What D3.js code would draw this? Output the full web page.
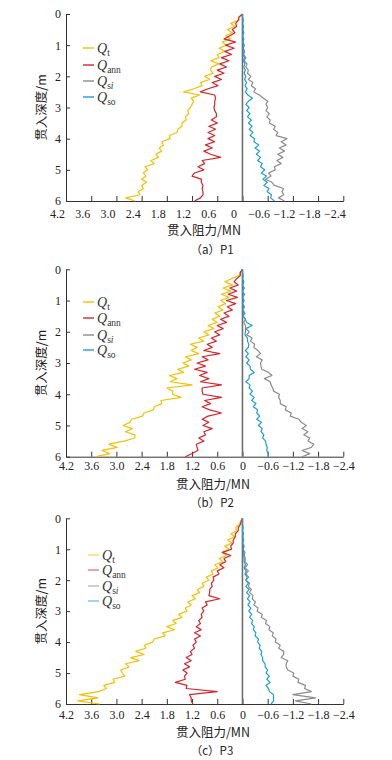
<!DOCTYPE html>
<html>
<head>
<meta charset="utf-8">
<script src="https://cdn.jsdelivr.net/npm/d3@7"></script>
<style>
  body { margin: 0; background: #fff; }
  svg { display: block; }
</style>
</head>
<body>
<svg id="chart" width="392" height="760"></svg>
<script>
// depth (m), shared by all series
var depth = [0,0.1,0.2,0.3,0.4,0.5,0.6,0.7,0.8,0.9,1.0,1.1,1.2,1.3,1.4,1.5,1.6,1.7,1.8,1.9,2.0,
  2.1,2.2,2.3,2.4,2.5,2.6,2.7,2.8,2.9,3.0,3.1,3.2,3.3,3.4,3.5,3.6,3.7,3.8,3.9,4.0,
  4.1,4.2,4.3,4.4,4.5,4.6,4.7,4.8,4.9,5.0,5.1,5.2,5.3,5.4,5.5,5.6,5.7,5.8,5.9,6.0];

var xTicks = [4.2, 3.6, 3.0, 2.4, 1.8, 1.2, 0.6, 0, -0.6, -1.2, -1.8, -2.4];
var yTicks = [0, 1, 2, 3, 4, 5, 6];
var seriesNames = ["t", "ann", "si", "so"];
var seriesColors = ["#f5c000", "#d8232a", "#8c8c8c", "#1c9fd6"];
var captions = ["（a）P1", "（b）P2", "（c）P3"];

// P1
var p1_Qt = [0,0.1,0.08,0.28,0.18,0.36,0.24,0.4,0.28,0.48,0.38,0.56,0.42,0.6,0.56,0.76,0.56,0.74,0.76,0.7,0.9,
  0.78,1.0,0.96,1.16,1.4,1.02,1.22,1.16,1.2,1.24,1.3,1.28,1.36,1.34,1.44,1.44,1.54,1.56,1.74,1.72,
  1.92,1.88,1.98,1.92,2.06,2.0,2.18,2.1,2.32,2.26,2.36,2.3,2.4,2.28,2.4,2.36,2.48,2.44,2.78,2.56];
var p1_Qann = [0,0.08,0.1,0.16,0.14,0.24,0.18,0.3,0.44,0.16,0.4,0.2,0.42,0.26,0.5,0.32,0.54,0.38,0.6,0.44,0.66,
  0.5,0.72,0.58,0.82,1.0,0.66,0.64,0.66,0.66,0.68,0.66,0.62,0.62,0.74,0.6,0.8,0.64,0.82,0.66,0.82,
  0.66,0.88,0.72,0.92,0.76,0.52,0.96,0.9,1.06,0.92,1.14,1.2,0.98,0.98,0.94,0.96,0.94,0.94,1.0,1.14];
var p1_Qsi = [0,0,-0.02,0,-0.02,-0.01,-0.03,0,-0.03,-0.01,-0.04,-0.02,-0.05,-0.03,-0.08,-0.04,-0.11,-0.08,-0.14,-0.12,-0.2,
  -0.14,-0.25,-0.21,-0.31,-0.27,-0.4,-0.5,-0.6,-0.56,-0.6,-0.56,-0.64,-0.58,-0.66,-0.64,-0.78,-0.74,-0.84,-0.8,-1.06,
  -0.92,-1.04,-0.88,-1.0,-0.84,-0.96,-0.82,-0.92,-0.76,-0.78,-0.62,-0.68,-0.55,-0.7,-0.76,-0.98,-0.94,-0.98,-0.86,-1.0];
var p1_Qso = [0,0,-0.01,0,-0.02,0,-0.03,0,-0.03,0,-0.04,-0.01,-0.04,-0.01,-0.05,-0.02,-0.06,-0.03,-0.07,-0.04,-0.08,
  -0.05,-0.1,-0.06,-0.11,-0.07,-0.13,-0.24,-0.14,-0.08,-0.16,-0.1,-0.18,-0.12,-0.21,-0.14,-0.23,-0.16,-0.25,-0.18,-0.29,
  -0.27,-0.39,-0.3,-0.41,-0.33,-0.43,-0.36,-0.47,-0.43,-0.53,-0.45,-0.57,-0.49,-0.59,-0.51,-0.63,-0.59,-0.69,-0.67,-0.76];

// P2
var p2_Qt = [0,0.06,0.08,0.26,0.42,0.24,0.46,0.28,0.5,0.32,0.52,0.4,0.58,0.46,0.66,0.54,0.72,0.6,0.82,0.68,0.92,
  0.8,1.04,0.92,1.24,1.08,1.22,1.04,1.36,1.22,1.42,1.28,1.54,1.4,1.74,1.56,1.72,1.2,1.8,1.66,1.66,
  1.46,1.94,1.92,2.1,2.12,2.34,2.38,2.64,2.68,2.84,2.62,2.78,2.56,2.56,2.82,3.18,2.98,3.34,3.16,3.48];
var p2_Qann = [0,0.05,0.05,0.14,0.2,0.1,0.3,0.14,0.34,0.12,0.38,0.16,0.36,0.24,0.44,0.32,0.52,0.38,0.6,0.46,0.66,
  0.54,0.74,0.62,0.84,0.72,0.92,0.54,0.96,0.82,1.08,0.88,1.14,0.84,1.02,0.8,1.0,0.5,0.96,0.96,0.94,
  0.5,0.9,0.76,0.96,0.78,0.5,0.82,0.96,0.8,0.94,0.72,0.92,0.88,1.04,0.92,1.1,1.08,1.06,1.2,1.36];
var p2_Qsi = [0,0,-0.02,0,-0.03,0,-0.04,0,-0.05,-0.01,-0.04,0,-0.05,-0.01,-0.06,-0.02,-0.07,-0.03,-0.07,-0.08,-0.16,
  -0.1,-0.23,-0.19,-0.29,-0.27,-0.37,-0.43,-0.33,-0.47,-0.43,-0.44,-0.46,-0.62,-0.7,-0.52,-0.66,-0.68,-0.72,-0.74,-0.88,
  -0.86,-0.9,-0.9,-1.04,-1.02,-1.16,-1.14,-1.34,-1.4,-1.52,-1.42,-1.56,-1.46,-1.6,-1.56,-1.7,-1.64,-1.42,-1.6,-1.42];
var p2_Qso = [0,0,-0.01,0,-0.03,0,-0.04,0,-0.03,0,-0.03,0,-0.03,0,-0.04,-0.01,-0.07,-0.1,-0.23,-0.08,-0.07,
  -0.06,-0.12,-0.12,-0.15,-0.14,-0.07,-0.14,-0.08,-0.16,-0.1,-0.18,-0.19,-0.28,-0.16,-0.16,-0.08,-0.18,-0.16,-0.24,-0.18,
  -0.28,-0.22,-0.32,-0.26,-0.36,-0.34,-0.41,-0.34,-0.45,-0.38,-0.47,-0.44,-0.51,-0.48,-0.55,-0.56,-0.59,-0.58,-0.61,-0.62];

// P3
var p3_Qt = [0,0.05,0.07,0.16,0.14,0.27,0.19,0.35,0.25,0.42,0.32,0.48,0.38,0.55,0.47,0.66,0.58,0.74,0.7,0.86,0.8,
  0.96,0.92,1.08,1.02,1.2,1.12,1.3,1.22,1.36,1.32,1.52,1.44,1.66,1.58,1.8,1.62,1.9,1.84,2.1,2.14,
  2.34,2.3,2.54,2.34,2.66,2.46,2.78,2.7,2.9,2.86,2.8,3.08,3.04,3.3,3.24,3.42,3.88,3.44,3.92,3.4];
var p3_Qann = [0,0.03,0.05,0.1,0.1,0.17,0.17,0.22,0.22,0.28,0.26,0.48,0.28,0.44,0.4,0.54,0.44,0.6,0.56,0.7,0.68,
  0.74,0.72,0.78,0.78,0.8,0.54,0.88,0.84,0.96,0.92,0.98,0.96,1.04,1.0,1.1,0.98,1.14,1.0,1.14,1.1,
  1.18,1.14,1.24,1.2,1.34,1.22,1.38,1.26,1.42,1.32,1.38,1.36,1.6,1.32,1.34,0.6,1.26,1.22,1.22,1.18];
var p3_Qsi = [0,0,0,-0.01,0,-0.02,-0.01,-0.02,-0.01,-0.04,-0.01,-0.06,-0.04,-0.07,-0.06,-0.12,-0.06,-0.14,-0.08,-0.15,-0.08,
  -0.17,-0.14,-0.21,-0.17,-0.25,-0.23,-0.31,-0.27,-0.37,-0.35,-0.47,-0.45,-0.57,-0.55,-0.65,-0.63,-0.73,-0.71,-0.8,-0.78,
  -0.9,-0.86,-0.98,-0.98,-0.92,-1.08,-1.04,-1.04,-1.08,-1.22,-1.2,-1.34,-1.32,-1.5,-1.48,-1.64,-1.2,-1.74,-1.26,-1.64];
var p3_Qso = [0,0,0,-0.01,0,-0.01,0,-0.03,0,-0.03,-0.02,-0.03,-0.03,-0.04,-0.04,-0.07,-0.04,-0.09,-0.06,-0.11,-0.08,
  -0.14,-0.08,-0.16,-0.1,-0.17,-0.12,-0.18,-0.13,-0.2,-0.15,-0.22,-0.17,-0.24,-0.22,-0.28,-0.26,-0.32,-0.3,-0.38,-0.36,
  -0.42,-0.4,-0.46,-0.44,-0.48,-0.48,-0.54,-0.54,-0.6,-0.56,-0.64,-0.58,-0.66,-0.56,-0.62,-0.64,-0.74,-0.74,-0.74,-0.68];

var panelData = [
  [p1_Qt, p1_Qann, p1_Qsi, p1_Qso],
  [p2_Qt, p2_Qann, p2_Qsi, p2_Qso],
  [p3_Qt, p3_Qann, p3_Qsi, p3_Qso]
];

// layout of each panel (pixels)
var panels = [
  {top: 14,    bottom: 201,   labelShift: -9, labelY: 8, xTitle: 204, titleY: 231, legX: 83, legY: [48, 65, 81, 97],     capY: 250},
  {top: 269.3, bottom: 456.7, labelShift: 0,  labelY: 5, xTitle: 213, titleY: 485, legX: 83, legY: [302, 318, 335, 350], capY: 503},
  {top: 518.3, bottom: 704,   labelShift: 0,  labelY: 6, xTitle: 213, titleY: 733, legX: 88, legY: [555, 570, 586, 601], capY: 751}
];
var left = 66, right = 343.3;

var svg = d3.select("#chart");
var x = d3.scaleLinear().domain([4.2, -2.4]).range([left, right]);

function fmt(v) {
  if (v == 0) return "0";
  return (v < 0 ? "\u2212" : "") + Math.abs(v).toFixed(1);
}

panels.forEach(function(p, k) {
  var g = svg.append("g");
  var y = d3.scaleLinear().domain([0, 6]).range([p.top, p.bottom]);

  // x axis, ticks pointing up
  var xAxis = g.append("g").attr("transform", "translate(0," + p.bottom + ")")
    .call(d3.axisBottom(x).tickValues(xTicks).tickSizeInner(-5).tickSizeOuter(0).tickFormat(fmt));
  xAxis.select(".domain").attr("stroke", "#333");
  xAxis.selectAll(".tick line").attr("stroke", "#333");
  xAxis.selectAll(".tick text")
    .attr("y", p.labelY).attr("dy", "0.71em").attr("dx", p.labelShift)
    .style("font-family", "'Liberation Serif', serif").style("font-size", "12px").style("fill", "#222");

  // y axis, ticks pointing right
  var yAxis = g.append("g").attr("transform", "translate(" + left + ",0)")
    .call(d3.axisLeft(y).tickValues(yTicks).tickSizeInner(-4).tickSizeOuter(0).tickFormat(d3.format("d")));
  yAxis.select(".domain").attr("stroke", "#333");
  yAxis.selectAll(".tick line").attr("stroke", "#333");
  yAxis.selectAll(".tick text").attr("x", -5)
    .style("font-family", "'Liberation Serif', serif").style("font-size", "12px").style("fill", "#222");

  // zero line
  g.append("line")
    .attr("x1", x(0)).attr("x2", x(0)).attr("y1", p.top).attr("y2", p.bottom)
    .attr("stroke", "#6e6e6e").attr("stroke-width", 1.6);

  // series
  panelData[k].forEach(function(vals, s) {
    var line = d3.line()
      .x(function(d) { return x(d); })
      .y(function(d, i) { return y(depth[i]); });
    g.append("path").datum(vals)
      .attr("d", line)
      .attr("fill", "none")
      .attr("stroke", seriesColors[s])
      .attr("stroke-width", 1.2)
      .attr("stroke-linejoin", "round");
  });

  // legend
  seriesNames.forEach(function(n, s) {
    var ly = p.legY[s];
    g.append("line")
      .attr("x1", p.legX).attr("x2", p.legX + 11).attr("y1", ly).attr("y2", ly)
      .attr("stroke", seriesColors[s]).attr("stroke-width", 1.4)
      .attr("opacity", k == 2 ? 0.6 : 1);
    var t = g.append("text")
      .attr("x", p.legX + 14).attr("y", ly + 4.5)
      .style("font-family", "'Liberation Serif', serif").style("font-size", "14px").style("fill", "#333");
    t.append("tspan").style("font-style", "italic").text("Q");
    var sub = t.append("tspan").attr("dy", 3).style("font-size", "9.5px");
    if (n == "si") {
      sub.text("s");
      t.append("tspan").style("font-size", "9.5px").style("font-style", "italic").text("i");
    } else {
      sub.text(n);
    }
  });

  // axis titles
  g.append("text")
    .attr("transform", "translate(42," + ((p.top + p.bottom) / 2) + ") rotate(-90)")
    .attr("text-anchor", "middle").attr("dy", "0.35em")
    .style("font-family", "'Noto Sans CJK SC', sans-serif").style("font-size", "12.5px").style("fill", "#222")
    .text("贯入深度/m");
  g.append("text")
    .attr("x", p.xTitle).attr("y", p.titleY).attr("text-anchor", "middle").attr("dy", "0.35em")
    .style("font-family", "'Noto Sans CJK SC', sans-serif").style("font-size", "12.5px").style("fill", "#222")
    .text("贯入阻力/MN");
  g.append("text")
    .attr("x", 212).attr("y", p.capY).attr("text-anchor", "middle").attr("dy", "0.35em")
    .style("font-family", "'Noto Sans CJK SC', sans-serif").style("font-size", "11.5px").style("fill", "#222")
    .text(captions[k]);
});
</script>
</body>
</html>
